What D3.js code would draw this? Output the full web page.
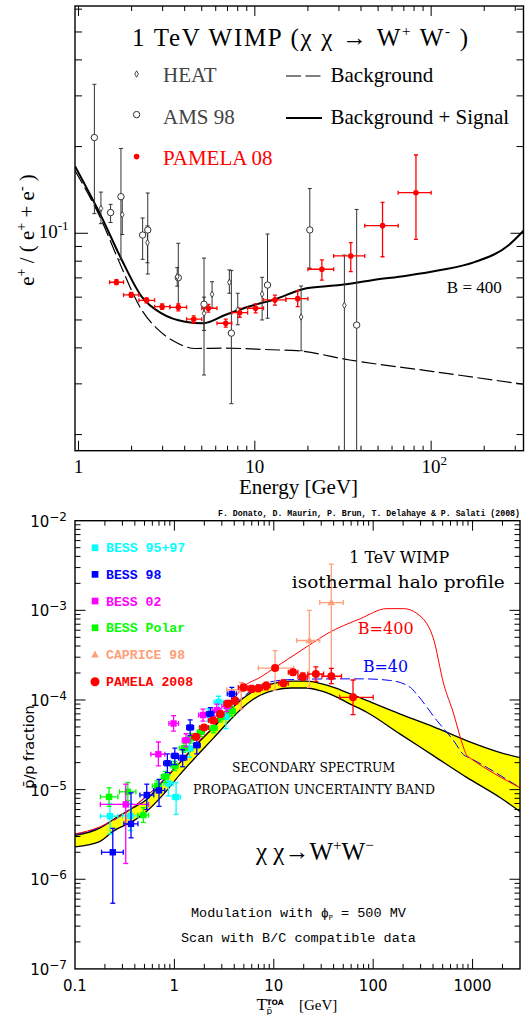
<html>
<head>
<meta charset="utf-8">
<script src="https://d3js.org/d3.v7.min.js"></script>
<style>
  body { margin: 0; background: #fff; }
  svg { display: block; }
</style>
</head>
<body>
<svg id="chart" width="531" height="1015"></svg>
<script>

// ===== upper plot : e+ / (e+ + e-) =====
// [E GeV, value, low, high, Emin, Emax]
var pamelaPos = [
	[1.64, 0.0676, 0.0663, 0.0690, 1.5, 1.8],
	[1.99, 0.0611, 0.0599, 0.0623, 1.8, 2.2],
	[2.43, 0.0585, 0.0573, 0.0597, 2.2, 2.7],
	[2.98, 0.0556, 0.0544, 0.0568, 2.7, 3.3],
	[3.68, 0.0553, 0.0538, 0.0568, 3.3, 4.1],
	[4.50, 0.0503, 0.0489, 0.0517, 4.1, 5.0],
	[5.45, 0.0549, 0.0532, 0.0566, 5.0, 6.1],
	[6.84, 0.0487, 0.0472, 0.0503, 6.1, 7.4],
	[8.20, 0.0530, 0.0511, 0.0549, 7.4, 9.1],
	[10.1, 0.0549, 0.0529, 0.0569, 9.1, 11.2],
	[13.0, 0.0587, 0.0563, 0.0610, 11.2, 15],
	[17.5, 0.0593, 0.0556, 0.0632, 15, 20],
	[24.0, 0.0750, 0.0688, 0.0808, 20, 28],
	[35.0, 0.0834, 0.0736, 0.0928, 28, 42],
	[53.0, 0.1063, 0.0829, 0.1280, 42, 65],
	[82.0, 0.1383, 0.0953, 0.1870, 65, 100]
];
// [E GeV, value, low, high]
var heatPos = [
	[1.34, 0.122, 0.108, 0.139],
	[1.77, 0.116, 0.099, 0.133],
	[2.46, 0.0928, 0.079, 0.106],
	[3.63, 0.0707, 0.0655, 0.076],
	[5.15, 0.0527, 0.046, 0.060],
	[5.72, 0.0614, 0.0549, 0.0679],
	[7.17, 0.0676, 0.0619, 0.0746],
	[8.00, 0.0542, 0.0481, 0.0619],
	[11.0, 0.0615, 0.050, 0.0703],
	[18.3, 0.0512, 0.0391, 0.0656],
	[32.2, 0.0562, 0.005, 0.084]
];
var amsPos = [
	[1.23, 0.215, 0.117, 0.329],
	[1.52, 0.118, 0.109, 0.126],
	[1.74, 0.134, 0.081, 0.197],
	[2.31, 0.0986, 0.0812, 0.113],
	[2.47, 0.1027, 0.0722, 0.138],
	[3.68, 0.0701, 0.0556, 0.0923],
	[5.15, 0.0567, 0.0322, 0.082],
	[7.36, 0.045, 0.0256, 0.0742],
	[11.8, 0.0661, 0.0507, 0.0994],
	[20.5, 0.1027, 0.0756, 0.143],
	[37.8, 0.048, 0.005, 0.121]
];
// [E GeV, value]
var bgCurve = [
	[0.955, 0.165], [1.35, 0.111], [1.68, 0.081], [2.28, 0.0542], [2.84, 0.0462],
	[3.52, 0.042], [4.58, 0.0398], [6.78, 0.0399], [12.4, 0.0394], [17.3, 0.0391],
	[34.5, 0.0363], [103, 0.0331], [334, 0.0299]
];
var sigCurve = [
	[0.955, 0.171], [1.35, 0.114], [1.76, 0.0808], [2.28, 0.0603], [2.96, 0.0527],
	[4.02, 0.0493], [5.1, 0.0487], [6.78, 0.052], [9.17, 0.0556], [12.7, 0.0587],
	[19.6, 0.0644], [30.5, 0.0661], [47, 0.0688], [72.5, 0.0712], [113, 0.0745],
	[176, 0.0794], [275, 0.0909], [334, 0.102]
];
var topXLabels = [[1, "1", ""], [10, "10", ""], [100, "10", "2"]];
var topYLabels = [[0.1, "10", "-1"]];

// ===== lower plot : pbar / p =====
// [T GeV, value, low, high, Tmin, Tmax]
var bess9597 = [
	[0.225, 5.06e-6, 3.2e-6, 7.0e-6, 0.18, 0.27],
	[0.36, 5.1e-6, 3.5e-6, 7.0e-6, 0.30, 0.43],
	[0.87, 1.17e-5, 8.5e-6, 1.45e-5, 0.78, 0.97],
	[1.04, 8.26e-6, 5.3e-6, 1.2e-5, 0.95, 1.15],
	[1.42, 2.88e-5, 2.3e-5, 3.5e-5, 1.30, 1.55],
	[2.2, 6.85e-5, 5.8e-5, 8.0e-5, 2.0, 2.4],
	[2.78, 9.5e-5, 8.0e-5, 1.1e-4, 2.5, 3.1],
	[3.3, 6.5e-5, 4.8e-5, 8.5e-5, 3.0, 3.6]
];
var bess98 = [
	[0.24, 2.0e-6, 5.4e-7, 3.7e-6, 0.185, 0.306],
	[0.366, 4.15e-6, 2.9e-6, 9.2e-6, 0.31, 0.43],
	[0.527, 8.7e-6, 6.0e-6, 1.15e-5, 0.45, 0.62],
	[0.70, 9.8e-6, 6.5e-6, 1.3e-5, 0.62, 0.80],
	[0.85, 1.97e-5, 1.55e-5, 2.5e-5, 0.78, 0.93],
	[1.01, 2.38e-5, 1.9e-5, 2.9e-5, 0.93, 1.10],
	[1.21, 2.26e-5, 1.8e-5, 2.8e-5, 1.10, 1.33],
	[1.44, 4.93e-5, 4.0e-5, 6.0e-5, 1.33, 1.56],
	[1.68, 3.13e-5, 2.5e-5, 3.9e-5, 1.56, 1.82],
	[2.3, 7.0e-5, 6.0e-5, 8.2e-5, 2.1, 2.5],
	[3.78, 1.17e-4, 9.8e-5, 1.38e-4, 3.4, 4.2]
];
var bess02 = [
	[0.324, 6.84e-6, 1.5e-6, 1.15e-5, 0.18, 0.55],
	[0.69, 2.48e-5, 1.84e-5, 3.4e-5, 0.58, 0.80],
	[0.98, 5.47e-5, 4.5e-5, 6.7e-5, 0.88, 1.10],
	[1.31, 3.56e-5, 3.0e-5, 4.2e-5, 1.20, 1.43],
	[1.94, 6.79e-5, 5.8e-5, 7.9e-5, 1.75, 2.15],
	[2.67, 7.7e-5, 6.6e-5, 9.0e-5, 2.4, 2.95],
	[3.36, 8.5e-5, 7.4e-5, 9.8e-5, 3.0, 3.7]
];
var bessPolar = [
	[0.22, 8.3e-6, 6.5e-6, 1.05e-5, 0.18, 0.27],
	[0.34, 9.46e-6, 7.5e-6, 1.2e-5, 0.28, 0.41],
	[0.487, 5.19e-6, 4.3e-6, 6.3e-6, 0.43, 0.55],
	[0.67, 1.1e-5, 9.5e-6, 1.25e-5, 0.60, 0.74],
	[0.81, 1.4e-5, 1.2e-5, 1.6e-5, 0.74, 0.88],
	[1.01, 1.84e-5, 1.63e-5, 2.07e-5, 0.92, 1.09],
	[1.25, 2.9e-5, 2.6e-5, 3.3e-5, 1.12, 1.36],
	[1.46, 3.75e-5, 3.3e-5, 4.25e-5, 1.36, 1.6],
	[1.85, 4.4e-5, 3.9e-5, 5.0e-5, 1.7, 2.0],
	[2.47, 4.85e-5, 4.3e-5, 5.5e-5, 2.25, 2.7],
	[2.9, 6.4e-5, 5.7e-5, 7.2e-5, 2.7, 3.15],
	[3.78, 7.5e-5, 6.6e-5, 8.4e-5, 3.4, 4.1]
];
var caprice98 = [
	[4.7, 1.3e-4, 7.9e-5, 1.57e-4, 3.36, 6.7],
	[10.3, 2.27e-4, 1.28e-4, 3.55e-4, 7.0, 15.9],
	[22.8, 4.61e-4, 1.38e-4, 1.0e-3, 17, 29],
	[37.9, 1.22e-3, 1.8e-4, 3.27e-3, 29, 50]
];
var pamelaPbar = [
	[1.65, 3.9e-5, 3.6e-5, 4.2e-5, 1.5, 1.8],
	[1.99, 4.93e-5, 4.6e-5, 5.3e-5, 1.8, 2.2],
	[2.45, 5.9e-5, 5.5e-5, 6.4e-5, 2.2, 2.7],
	[2.9, 6.97e-5, 6.4e-5, 7.6e-5, 2.7, 3.15],
	[3.45, 9.1e-5, 8.4e-5, 9.9e-5, 3.15, 3.8],
	[4.08, 9.8e-5, 9.0e-5, 1.07e-4, 3.8, 4.4],
	[4.95, 1.38e-4, 1.27e-4, 1.5e-4, 4.4, 5.5],
	[6.0, 1.33e-4, 1.22e-4, 1.45e-4, 5.5, 6.5],
	[7.0, 1.35e-4, 1.24e-4, 1.47e-4, 6.5, 7.7],
	[8.4, 1.44e-4, 1.3e-4, 1.58e-4, 7.7, 9.2],
	[10.3, 2.27e-4, 2.2e-4, 2.34e-4, 10.0, 10.6],
	[12.5, 1.54e-4, 1.42e-4, 1.67e-4, 11.2, 14],
	[15.6, 2.04e-4, 1.88e-4, 2.2e-4, 14, 17.5],
	[19.6, 1.82e-4, 1.66e-4, 2.0e-4, 17.5, 22],
	[26.5, 1.95e-4, 1.61e-4, 2.34e-4, 22, 31.7],
	[37.9, 1.84e-4, 1.52e-4, 2.25e-4, 30.5, 48],
	[62.7, 1.07e-4, 6.86e-5, 1.67e-4, 46, 100]
];
// secondary band : T, lower edge, upper edge
var bandT  = [0.1, 0.179, 0.243, 0.384, 0.527, 0.775, 1.14, 1.68, 2.47, 3.64, 5.36, 7.3, 10, 15, 21.5, 30, 40, 58.8, 87, 187, 406, 881, 1905, 3000];
var bandLo = [2.30e-6, 2.65e-6, 3.44e-6, 4.45e-6, 5.75e-6, 8.85e-6, 1.48e-5, 2.38e-5, 3.75e-5, 5.97e-5, 9.0e-5, 1.13e-4, 1.28e-4, 1.36e-4, 1.36e-4, 1.26e-4, 1.12e-4, 9.0e-5, 7.26e-5, 4.16e-5, 2.38e-5, 1.36e-5, 8.11e-6, 5.7e-6];
var bandHi = [3.08e-6, 3.74e-6, 4.65e-6, 6.27e-6, 7.78e-6, 1.25e-5, 2.0e-5, 3.21e-5, 4.93e-5, 7.73e-5, 1.12e-4, 1.37e-4, 1.53e-4, 1.62e-4, 1.62e-4, 1.52e-4, 1.38e-4, 1.17e-4, 9.82e-5, 6.97e-5, 5.02e-5, 3.5e-5, 2.59e-5, 2.27e-5];
// signal + background, [T, value]
var curveB400 = [
	[0.1, 3.2e-6], [0.179, 3.85e-6], [0.384, 6.4e-6], [0.775, 1.28e-5], [1.14, 2.05e-5],
	[1.68, 3.3e-5], [2.47, 5.1e-5], [3.64, 9.0e-5], [4.95, 1.4e-4], [7.3, 1.79e-4],
	[10.3, 2.3e-4], [22.8, 4.1e-4], [34.3, 5.48e-4], [74.2, 8.07e-4], [138, 1.045e-3],
	[202, 1.045e-3], [276, 9.2e-4], [400, 5.0e-4], [512, 1.51e-4], [646, 6.97e-5],
	[754, 3.81e-5], [881, 2.38e-5], [950, 2.24e-5], [3000, 1.05e-5]
];
var curveB40 = [
	[0.1, 3.15e-6], [0.179, 3.8e-6], [0.384, 6.35e-6], [0.775, 1.27e-5], [1.14, 2.04e-5],
	[1.68, 3.28e-5], [2.47, 5.05e-5], [3.64, 8.0e-5], [5.36, 1.17e-4], [7.3, 1.45e-4],
	[10, 1.62e-4], [15, 1.69e-4], [43.2, 1.72e-4], [80, 1.72e-4], [149, 1.65e-4],
	[237, 1.38e-4], [276, 1.15e-4], [439, 5.87e-5], [646, 3.5e-5], [813, 2.45e-5],
	[950, 2.24e-5], [3000, 1.05e-5]
];
var botXLabels = [[0.1, "0.1"], [1, "1"], [10, "10"], [100, "100"], [1000, "1000"]];
var botYLabels = [[1e-2, "\u22122"], [1e-3, "\u22123"], [1e-4, "\u22124"], [1e-5, "\u22125"], [1e-6, "\u22126"], [1e-7, "\u22127"]];
var legendNames = ["BESS 95+97", "BESS 98", "BESS 02", "BESS Polar", "CAPRICE 98", "PAMELA 2008"];
var legendColors = ["#00ffff", "#0000ff", "#ff00ff", "#00ff00", "#ffa07a", "#ff0000"];

(function(){

	var svg = d3.select("#chart");
	var serif = "'Liberation Serif', 'Times New Roman', serif";
	var sans = "'DejaVu Sans', sans-serif";
	var mono = "'Liberation Mono', 'DejaVu Sans Mono', monospace";

	function logTickValues(lo, hi){
		var out = [];
		var n0 = Math.floor(Math.log10(lo)), n1 = Math.ceil(Math.log10(hi));
		for (var n = n0; n <= n1; n++){
			for (var k = 1; k < 10; k++){
				var v = +(k*Math.pow(10, n)).toPrecision(6);
				if (v >= lo*0.9999 && v <= hi*1.0001) out.push({v: v, major: k === 1});
			}
		}
		return out;
	}

	// inward ticks on all four sides of a frame
	function frameTicks(g, xs, ys, len){
		var x0 = xs.range()[0], x1 = xs.range()[1];
		var y0 = ys.range()[0], y1 = ys.range()[1];
		var segs = [];
		logTickValues(xs.domain()[0], xs.domain()[1]).forEach(function(t){
			var p = xs(t.v);
			if (p < x0 + 1 || p > x1 - 1) return;
			var l = t.major ? len.xMaj : len.xMin;
			segs.push([p, y0, p, y0 - l]);
			segs.push([p, y1, p, y1 + l]);
		});
		logTickValues(ys.domain()[0], ys.domain()[1]).forEach(function(t){
			var p = ys(t.v);
			if (p > y0 - 1 || p < y1 + 1) return;
			var l = t.major ? len.yMaj : len.yMin;
			segs.push([x0, p, x0 + l, p]);
			segs.push([x1, p, x1 - l, p]);
		});
		g.selectAll(".tick").data(segs).enter().append("line")
			.attr("class", "tick")
			.attr("x1", function(d){return d[0];})
			.attr("y1", function(d){return d[1];})
			.attr("x2", function(d){return d[2];})
			.attr("y2", function(d){return d[3];})
			.style("stroke", "#000")
			.style("stroke-width", 1);
		g.append("rect")
			.attr("x", x0).attr("y", y1)
			.attr("width", x1 - x0).attr("height", y0 - y1)
			.style("fill", "none").style("stroke", "#000").style("stroke-width", 1.4);
	}

	// text made of pieces, with super/subscripts shifted by dy
	function richText(g, x, y, parts, attrs){
		var t = g.append("text").attr("x", x).attr("y", y);
		for (var k in attrs) t.attr(k, attrs[k]);
		var shift = 0;
		parts.forEach(function(p){
			var s = t.append("tspan").text(p.t);
			var target = p.dy || 0;
			if (target !== shift){ s.attr("dy", target - shift); shift = target; }
			if (p.size) s.attr("font-size", p.size);
		});
		return t;
	}

	function errorBars(g, xs, ys, data, color, width, cap, withX){
		var segs = [];
		data.forEach(function(d){
			var px = xs(d[0]), py = ys(d[1]);
			var a = ys(d[2]), b = ys(d[3]);
			segs.push([px, a, px, b]);
			segs.push([px - cap, a, px + cap, a]);
			segs.push([px - cap, b, px + cap, b]);
			if (withX){
				var l = xs(d[4]), r = xs(d[5]);
				segs.push([l, py, r, py]);
				segs.push([l, py - cap, l, py + cap]);
				segs.push([r, py - cap, r, py + cap]);
			}
		});
		g.append("g").selectAll("line").data(segs).enter().append("line")
			.attr("x1", function(d){return d[0];})
			.attr("y1", function(d){return d[1];})
			.attr("x2", function(d){return d[2];})
			.attr("y2", function(d){return d[3];})
			.style("stroke", color)
			.style("stroke-width", width);
	}

	// ================= upper panel =================
	var tx = d3.scaleLog().domain([0.955, 334]).range([75, 523.5]);
	var ty = d3.scaleLog().domain([0.01758, 0.6154]).range([450.7, 6]);

	var top = svg.append("g");
	top.append("clipPath").attr("id", "clipTop").append("rect")
		.attr("x", 75).attr("y", 6).attr("width", 448.5).attr("height", 444.7);
	var topData = top.append("g").attr("clip-path", "url(#clipTop)");

	var tline = d3.line()
		.x(function(d){return tx(d[0]);})
		.y(function(d){return ty(d[1]);})
		.curve(d3.curveMonotoneX);

	topData.append("path").datum(bgCurve).attr("d", tline)
		.style("fill", "none").style("stroke", "#000").style("stroke-width", 1.2)
		.style("stroke-dasharray", "15,4.5");
	topData.append("path").datum(sigCurve).attr("d", tline)
		.style("fill", "none").style("stroke", "#000").style("stroke-width", 2);

	errorBars(topData, tx, ty, amsPos, "#333", 1, 2, false);
	errorBars(topData, tx, ty, heatPos, "#333", 1, 2, false);
	errorBars(topData, tx, ty, pamelaPos, "#ff0000", 1.3, 2, true);

	topData.selectAll(".ams").data(amsPos).enter().append("circle")
		.attr("class", "ams")
		.attr("cx", function(d){return tx(d[0]);})
		.attr("cy", function(d){return ty(d[1]);})
		.attr("r", 3.2)
		.style("fill", "#fff").style("stroke", "#333").style("stroke-width", 1);

	var diamond = "M0,-3.2L1.8,0L0,3.2L-1.8,0Z";
	topData.selectAll(".heat").data(heatPos).enter().append("path")
		.attr("class", "heat")
		.attr("d", diamond)
		.attr("transform", function(d){return "translate(" + tx(d[0]) + "," + ty(d[1]) + ")";})
		.style("fill", "#fff").style("stroke", "#333").style("stroke-width", 0.9);

	topData.selectAll(".pam").data(pamelaPos).enter().append("circle")
		.attr("class", "pam")
		.attr("cx", function(d){return tx(d[0]);})
		.attr("cy", function(d){return ty(d[1]);})
		.attr("r", 2.8)
		.style("fill", "#ff0000");

	frameTicks(top, tx, ty, {xMaj: 10, xMin: 5, yMaj: 13, yMin: 7});

	// tick labels
	topXLabels.forEach(function(l){
		var parts = [{t: l[1]}];
		if (l[2]) parts.push({t: l[2], dy: -8, size: 13});
		richText(top, tx(l[0]) + (l[2] ? 3 : 0), 473, parts,
			{"font-family": serif, "font-size": 19, "text-anchor": "middle"});
	});
	topYLabels.forEach(function(l){
		richText(top, 68.5, ty(l[0]) + 5, [{t: l[1]}, {t: l[2], dy: -8, size: 13}],
			{"font-family": serif, "font-size": 19, "text-anchor": "end"});
	});

	top.append("text").attr("x", 298.5).attr("y", 494)
		.attr("font-family", serif).attr("font-size", 21).attr("text-anchor", "middle")
		.text("Energy [GeV]");

	richText(top.append("g").attr("transform", "translate(34,230) rotate(-90)"), 0, 0,
		[{t: "e"}, {t: "+", dy: -8, size: 14}, {t: " / ( e"}, {t: "+", dy: -8, size: 14},
		 {t: " + e"}, {t: "-", dy: -8, size: 14}, {t: " )"}],
		{"font-family": serif, "font-size": 21, "text-anchor": "middle"});

	richText(top, 132, 46,
		[{t: "1 TeV WIMP (\u03c7 \u03c7 \u2192 W"}, {t: "+", dy: -10, size: 15},
		 {t: " W"}, {t: "-", dy: -10, size: 15}, {t: " )"}],
		{"font-family": serif, "font-size": 25, "textLength": 336, "lengthAdjust": "spacing"});

	// legend
	top.append("path").attr("d", diamond)
		.attr("transform", "translate(136.6,74)")
		.style("fill", "#fff").style("stroke", "#333").style("stroke-width", 0.9);
	top.append("circle").attr("cx", 136.6).attr("cy", 114.6).attr("r", 3.2)
		.style("fill", "#fff").style("stroke", "#333");
	top.append("circle").attr("cx", 136.6).attr("cy", 156.6).attr("r", 2.8)
		.style("fill", "#ff0000");
	top.append("line").attr("x1", 286).attr("x2", 322).attr("y1", 76).attr("y2", 76)
		.style("stroke", "#000").style("stroke-width", 1.2).style("stroke-dasharray", "15,4.5");
	top.append("line").attr("x1", 286).attr("x2", 322).attr("y1", 118).attr("y2", 118)
		.style("stroke", "#000").style("stroke-width", 2);

	var legTop = [
		[163, 82.4, "HEAT", "#444"],
		[163, 123.5, "AMS 98", "#444"],
		[163, 165, "PAMELA 08", "#ff0000"],
		[330.5, 82.4, "Background", "#000"],
		[330.5, 123.5, "Background + Signal", "#000"]
	];
	top.selectAll(".legt").data(legTop).enter().append("text")
		.attr("class", "legt")
		.attr("x", function(d){return d[0];})
		.attr("y", function(d){return d[1];})
		.attr("font-family", serif).attr("font-size", 21)
		.style("fill", function(d){return d[3];})
		.text(function(d){return d[2];});

	top.append("text").attr("x", 446.8).attr("y", 292.5)
		.attr("font-family", serif).attr("font-size", 17)
		.text("B = 400");

	// ================= lower panel =================
	var bx = d3.scaleLog().domain([0.1, 3000]).range([75, 520]);
	var by = d3.scaleLog().domain([1e-7, 1e-2]).range([968.9, 520.7]);

	var bot = svg.append("g");
	bot.append("clipPath").attr("id", "clipBot").append("rect")
		.attr("x", 75).attr("y", 520.7).attr("width", 445).attr("height", 448.2);
	var botData = bot.append("g").attr("clip-path", "url(#clipBot)");

	var band = bandT.map(function(t, i){return [t, bandLo[i], bandHi[i]];});
	var area = d3.area()
		.x(function(d){return bx(d[0]);})
		.y0(function(d){return by(d[1]);})
		.y1(function(d){return by(d[2]);})
		.curve(d3.curveMonotoneX);
	botData.append("path").datum(band).attr("d", area).style("fill", "#ffff00");
	botData.append("path").datum(band).attr("d", area.lineY0())
		.style("fill", "none").style("stroke", "#000").style("stroke-width", 1.3);
	botData.append("path").datum(band).attr("d", area.lineY1())
		.style("fill", "none").style("stroke", "#000").style("stroke-width", 1.3);

	var bline = d3.line()
		.x(function(d){return bx(d[0]);})
		.y(function(d){return by(d[1]);})
		.curve(d3.curveMonotoneX);
	botData.append("path").datum(curveB40).attr("d", bline)
		.style("fill", "none").style("stroke", "#0000ff").style("stroke-width", 1)
		.style("stroke-dasharray", "10,4");
	botData.append("path").datum(curveB400).attr("d", bline)
		.style("fill", "none").style("stroke", "#ff0000").style("stroke-width", 1);

	var sets = [
		[bess9597, legendColors[0], "sq"],
		[bessPolar, legendColors[3], "sq"],
		[bess02, legendColors[2], "sq"],
		[bess98, legendColors[1], "sq"],
		[caprice98, legendColors[4], "tri"],
		[pamelaPbar, legendColors[5], "dot"]
	];
	var triangle = "M0,-4.2L3.8,2.6L-3.8,2.6Z";
	sets.forEach(function(s){
		errorBars(botData, bx, by, s[0], s[1], 1.3, 2.5, true);
		var g = botData.append("g");
		if (s[2] === "sq"){
			g.selectAll("rect").data(s[0]).enter().append("rect")
				.attr("x", function(d){return bx(d[0]) - 3.2;})
				.attr("y", function(d){return by(d[1]) - 3.2;})
				.attr("width", 6.4).attr("height", 6.4)
				.style("fill", s[1]);
		} else if (s[2] === "tri"){
			g.selectAll("path").data(s[0]).enter().append("path")
				.attr("d", triangle)
				.attr("transform", function(d){return "translate(" + bx(d[0]) + "," + by(d[1]) + ")";})
				.style("fill", s[1]);
		} else {
			g.selectAll("circle").data(s[0]).enter().append("circle")
				.attr("cx", function(d){return bx(d[0]);})
				.attr("cy", function(d){return by(d[1]);})
				.attr("r", 4)
				.style("fill", s[1]);
		}
	});

	frameTicks(bot, bx, by, {xMaj: 10, xMin: 5, yMaj: 10.5, yMin: 5.5});

	bot.selectAll(".bxl").data(botXLabels).enter().append("text")
		.attr("class", "bxl")
		.attr("x", function(d){return bx(d[0]);})
		.attr("y", 991)
		.attr("font-family", sans).attr("font-size", 15).attr("text-anchor", "middle")
		.text(function(d){return d[1];});
	botYLabels.forEach(function(l){
		richText(bot, 67, by(l[0]) + 6, [{t: "10"}, {t: l[1], dy: -6, size: 12}],
			{"font-family": sans, "font-size": 15, "text-anchor": "end"});
	});

	// axis titles
	bot.append("text").attr("x", 256.5).attr("y", 1010)
		.attr("font-family", serif).attr("font-size", 17).text("T");
	bot.append("text").attr("x", 266.5).attr("y", 1004.5)
		.attr("font-family", sans).attr("font-size", 7.5).attr("font-weight", "bold").text("TOA");
	bot.append("text").attr("x", 266.5).attr("y", 1013.5)
		.attr("font-family", sans).attr("font-size", 9).text("p\u0304");
	bot.append("text").attr("x", 299).attr("y", 1010)
		.attr("font-family", serif).attr("font-size", 15).text("[GeV]");

	bot.append("text").attr("transform", "translate(34,747) rotate(-90)")
		.attr("font-family", sans).attr("font-size", 14.5).attr("text-anchor", "middle")
		.text("p\u0304/p fraction");

	bot.append("text").attr("x", 218).attr("y", 516)
		.attr("font-family", mono).attr("font-size", 8.5).attr("font-weight", "bold")
		.attr("textLength", 302).attr("lengthAdjust", "spacingAndGlyphs")
		.text("F. Donato, D. Maurin, P. Brun, T. Delahaye & P. Salati (2008)");

	// legend
	var legRows = [547.7, 574.3, 601, 627.7, 654.3, 681.7];
	legendNames.forEach(function(name, i){
		var cy = legRows[i], c = legendColors[i];
		if (i < 4){
			bot.append("rect").attr("x", 91.7).attr("y", cy - 3.3)
				.attr("width", 6.7).attr("height", 6.7).style("fill", c);
		} else if (i === 4){
			bot.append("path").attr("d", triangle)
				.attr("transform", "translate(95," + (cy + 0.5) + ")").style("fill", c);
		} else {
			bot.append("circle").attr("cx", 95).attr("cy", cy).attr("r", 4.5).style("fill", c);
		}
		bot.append("text").attr("x", 106).attr("y", cy + 4.6)
			.attr("font-family", mono).attr("font-size", 13.2).attr("font-weight", "bold")
			.style("fill", c).text(name);
	});

	// annotations
	var dserif = "'DejaVu Serif', serif";
	bot.append("text").attr("x", 399.3).attr("y", 563)
		.attr("font-family", dserif).attr("font-size", 16).attr("text-anchor", "middle")
		.attr("textLength", 100).attr("lengthAdjust", "spacingAndGlyphs")
		.text("1 TeV WIMP");
	bot.append("text").attr("x", 398.3).attr("y", 588)
		.attr("font-family", dserif).attr("font-size", 16).attr("text-anchor", "middle")
		.attr("textLength", 213).attr("lengthAdjust", "spacingAndGlyphs")
		.text("isothermal halo profile");
	bot.append("text").attr("x", 357.7).attr("y", 634)
		.attr("font-family", dserif).attr("font-size", 16).style("fill", "#ff0000")
		.attr("textLength", 56).attr("lengthAdjust", "spacingAndGlyphs")
		.text("B=400");
	bot.append("text").attr("x", 363).attr("y", 672)
		.attr("font-family", dserif).attr("font-size", 16).style("fill", "#0000ff")
		.attr("textLength", 45).attr("lengthAdjust", "spacingAndGlyphs")
		.text("B=40");
	bot.append("text").attr("x", 313.5).attr("y", 771.5)
		.attr("font-family", dserif).attr("font-size", 13.5).attr("text-anchor", "middle")
		.attr("textLength", 163).attr("lengthAdjust", "spacingAndGlyphs")
		.text("SECONDARY SPECTRUM");
	bot.append("text").attr("x", 313.9).attr("y", 793.5)
		.attr("font-family", dserif).attr("font-size", 13.5).attr("text-anchor", "middle")
		.attr("textLength", 242).attr("lengthAdjust", "spacingAndGlyphs")
		.text("PROPAGATION UNCERTAINTY BAND");

	richText(bot, 256, 860,
		[{t: "\u03c7  \u03c7\u2192W"}, {t: "+", dy: -10, size: 15}, {t: "W"}, {t: "\u2212", dy: -10, size: 15}],
		{"font-family": serif, "font-size": 25});

	richText(bot, 191, 917,
		[{t: "Modulation with "}, {t: "\u03d5"}, {t: "P", dy: 3, size: 7}, {t: " = 500 MV"}],
		{"font-family": mono, "font-size": 13.5});
	bot.append("text").attr("x", 181).attr("y", 942)
		.attr("font-family", mono).attr("font-size", 13.5)
		.text("Scan with B/C compatible data");

})();
</script>
</body>
</html>
